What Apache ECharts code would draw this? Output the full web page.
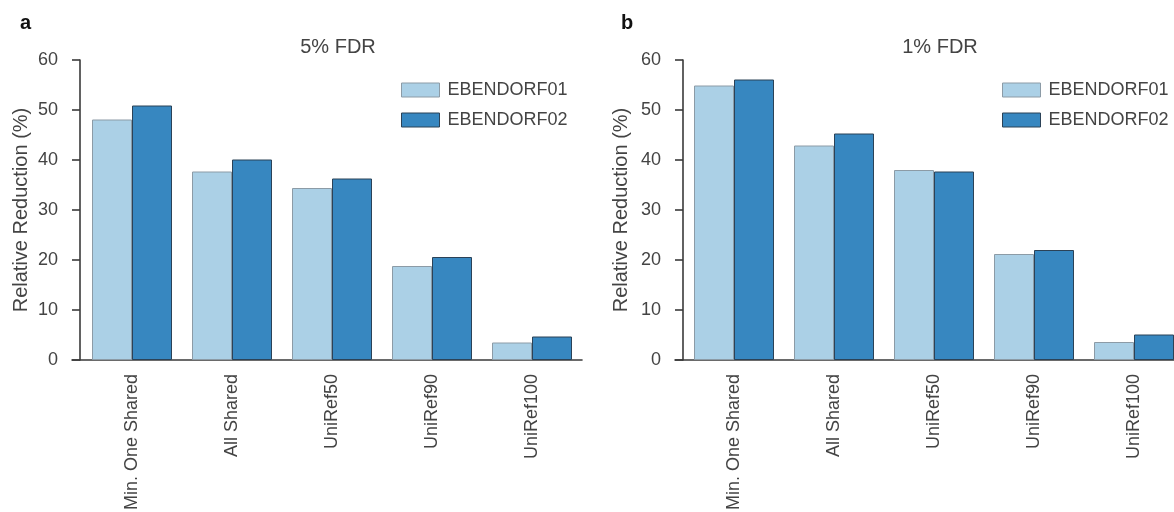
<!DOCTYPE html>
<html>
<head>
<meta charset="utf-8">
<script src="https://cdn.jsdelivr.net/npm/echarts@6/dist/echarts.min.js"></script>
<style>
  html, body { margin: 0; padding: 0; background: #fff; }
  #chart { width: 1174px; height: 512px; }
</style>
</head>
<body>
<div id="chart"></div>
<script>
// Reduction categories shared by both panels
const categories = ['Min. One Shared', 'All Shared', 'UniRef50', 'UniRef90', 'UniRef100'];
const seriesNames = ['EBENDORF01', 'EBENDORF02'];

// Panel a: 5% FDR
const fdr5_ebendorf01 = [48.1, 37.7, 34.4, 18.8, 3.5];
const fdr5_ebendorf02 = [50.9, 40.1, 36.3, 20.6, 4.7];

// Panel b: 1% FDR
const fdr1_ebendorf01 = [54.9, 42.9, 38.0, 21.2, 3.6];
const fdr1_ebendorf02 = [56.1, 45.3, 37.7, 22.0, 5.1];

const panelTitles = ['5% FDR', '1% FDR'];
const panelLetters = ['a', 'b'];
const yAxisName = 'Relative Reduction (%)';

const FONT = '"Liberation Sans", Arial, Helvetica, sans-serif';
const AXIS_COLOR = '#3a3a3a';
const TEXT_COLOR = '#444';
const LIGHT = { color: '#abd0e6', borderColor: '#8c9ba6', borderWidth: 1 };
const DARK = { color: '#3787c0', borderColor: '#2b4257', borderWidth: 1 };

// per-panel layout: bar grid, axis-line grid, y-axis offset, title centre, legend spot
const panels = [
  { barLeft: 82, lineLeft: 72, lineWidth: 510, yOffset: 2, nameGap: 49, titleX: 333, letterX: 15, legendX: 396, data: [fdr5_ebendorf01, fdr5_ebendorf02] },
  { barLeft: 684, lineLeft: 675, lineWidth: 510, yOffset: 1, nameGap: 52, titleX: 935, letterX: 616, legendX: 997, data: [fdr1_ebendorf01, fdr1_ebendorf02] }
];

const grid = [], xAxis = [], yAxis = [], series = [], title = [], legend = [];

panels.forEach((p, i) => {
  // grid holding the bars
  grid.push({ left: p.barLeft, top: 60, width: 500, height: 300, outerBoundsMode: 'none', containLabel: false });
  // grid that only carries the long baseline
  grid.push({ left: p.lineLeft, top: 60, width: p.lineWidth, height: 300, outerBoundsMode: 'none', containLabel: false });

  const barGrid = i * 2, lineGrid = i * 2 + 1;

  xAxis.push({
    type: 'category', gridIndex: barGrid, data: categories,
    axisLine: { show: false }, axisTick: { show: false },
    axisLabel: { rotate: 90, margin: 14, fontSize: 18, color: TEXT_COLOR, fontFamily: FONT, interval: 0 }
  });
  xAxis.push({
    type: 'value', gridIndex: lineGrid, min: 0, max: 1,
    axisLine: { show: true, lineStyle: { color: AXIS_COLOR, width: 1.6 } },
    axisTick: { show: false }, axisLabel: { show: false }, splitLine: { show: false }
  });

  yAxis.push({
    type: 'value', gridIndex: barGrid, min: 0, max: 60, interval: 10, offset: p.yOffset,
    name: yAxisName, nameLocation: 'middle', nameGap: p.nameGap, nameRotate: 90,
    nameTextStyle: { fontSize: 20, color: TEXT_COLOR, fontFamily: FONT },
    axisLine: { show: true, lineStyle: { color: AXIS_COLOR, width: 1.6 } },
    axisTick: { show: true, length: 8, lineStyle: { color: AXIS_COLOR, width: 1.6 } },
    axisLabel: { margin: 22, fontSize: 18, color: TEXT_COLOR, fontFamily: FONT },
    splitLine: { show: false }
  });
  yAxis.push({ type: 'value', gridIndex: lineGrid, min: 0, max: 60, show: false });

  p.data.forEach((vals, k) => {
    series.push({
      type: 'bar', name: seriesNames[k], xAxisIndex: barGrid, yAxisIndex: barGrid,
      data: vals, barGap: '0%', barCategoryGap: '20%',
      itemStyle: k === 0 ? LIGHT : DARK, silent: true
    });
  });

  title.push({
    text: panelLetters[i], left: p.letterX, top: 8,
    textStyle: { fontSize: 20, fontWeight: 'bold', color: '#111', fontFamily: FONT }
  });
  title.push({
    text: panelTitles[i], left: p.titleX, textAlign: 'center', top: 32,
    textStyle: { fontSize: 20, fontWeight: 'normal', color: TEXT_COLOR, fontFamily: FONT }
  });

  legend.push({
    orient: 'vertical', left: p.legendX, top: 76,
    itemWidth: 38, itemHeight: 14, itemGap: 12,
    icon: 'rect', selectedMode: false,
    textStyle: { fontSize: 18, color: TEXT_COLOR, fontFamily: FONT, padding: [0, 0, 0, 3] },
    data: [
      { name: seriesNames[0], itemStyle: LIGHT },
      { name: seriesNames[1], itemStyle: DARK }
    ]
  });
});

const chart = echarts.init(document.getElementById('chart'), null, { renderer: 'canvas' });
chart.setOption({
  animation: false,
  backgroundColor: '#fff',
  title, legend, grid, xAxis, yAxis, series
});
</script>
</body>
</html>
